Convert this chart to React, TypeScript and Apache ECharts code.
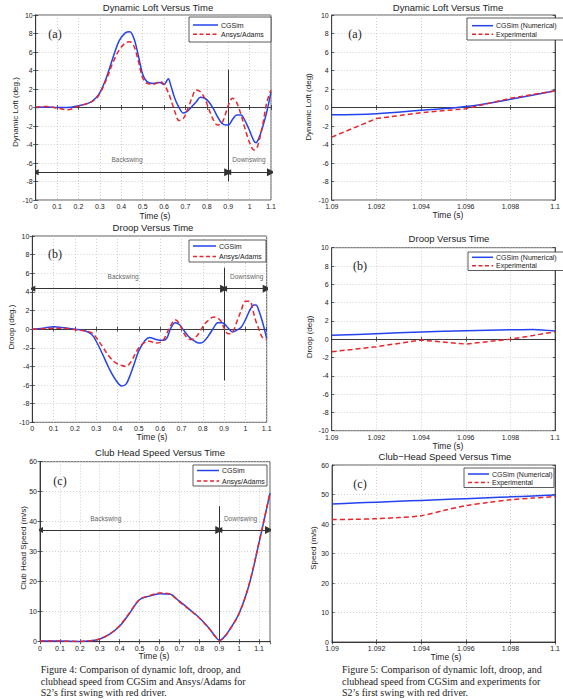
import React, { useEffect, useRef } from "react";
import * as echarts from "echarts";

// ---- Figure 4: full swing, CGSim vs Ansys/Adams ----
const loftTime = [0, 0.05, 0.1, 0.15, 0.2, 0.25, 0.28, 0.3, 0.33, 0.36, 0.39, 0.42, 0.44, 0.46, 0.48, 0.5, 0.52, 0.55, 0.58, 0.6, 0.62, 0.63, 0.65, 0.67, 0.69, 0.71, 0.73, 0.75, 0.77, 0.79, 0.81, 0.83, 0.85, 0.87, 0.89, 0.9, 0.92, 0.94, 0.96, 0.98, 1.0, 1.02, 1.03, 1.04, 1.06, 1.08, 1.1];
const loftCGSim = [0, 0.05, 0, 0, 0.2, 0.5, 1.0, 1.6, 3.2, 5.3, 7.2, 8.1, 8.2, 7.4, 5.6, 3.6, 2.8, 2.6, 2.7, 2.5, 3.1, 2.5, 1.0, 0.0, -0.6, -0.4, 0.1, 0.6, 1.1, 1.0, 0.6, -0.1, -1.0, -1.7, -1.9, -1.9, -1.3, -0.8, -0.8, -1.5, -2.5, -3.6, -3.8, -3.5, -2.2, -0.5, 1.7];
const loftAnsys = [0.05, 0.1, -0.05, -0.25, 0.15, 0.5, 0.9, 1.5, 3.0, 4.8, 6.2, 7.0, 7.1, 6.6, 5.0, 3.2, 2.6, 2.5, 2.8, 2.5, 1.6, 1.0, -0.4, -1.4, -1.2, -0.2, 1.0, 1.9, 1.7, 1.0, -0.2, -1.3, -1.9, -1.7, -0.5, 0.2, 1.0, 0.5, -0.8, -2.4, -3.8, -4.6, -4.5, -4.0, -2.0, 0.5, 1.9];

const droopTime = [0, 0.05, 0.1, 0.15, 0.2, 0.25, 0.28, 0.3, 0.33, 0.36, 0.39, 0.42, 0.44, 0.46, 0.48, 0.5, 0.53, 0.55, 0.58, 0.61, 0.63, 0.65, 0.67, 0.69, 0.71, 0.73, 0.75, 0.77, 0.79, 0.81, 0.83, 0.85, 0.87, 0.89, 0.9, 0.92, 0.94, 0.96, 0.98, 1.0, 1.02, 1.04, 1.05, 1.06, 1.08, 1.1];
const droopCGSim = [0, 0.1, 0.25, 0.15, 0, -0.2, -0.6, -1.3, -2.7, -4.2, -5.4, -6.1, -5.9, -4.9, -3.6, -2.3, -1.2, -0.9, -1.1, -1.2, -1.0, 0.1, 0.7, 0.5, -0.1, -0.7, -1.1, -1.4, -1.5, -1.2, -0.6, 0.1, 0.7, 0.7, 0.6, 0.1, -0.3, -0.1, 0.2, 1.0, 2.0, 2.6, 2.6, 2.2, 0.8, -1.0];
const droopAnsys = [0, 0.05, 0.1, 0.1, -0.05, -0.2, -0.4, -0.9, -1.9, -2.9, -3.6, -3.9, -4.0, -3.6, -2.8, -2.0, -1.4, -1.3, -1.5, -1.3, -0.5, 0.4, 1.0, 0.6, -0.4, -1.0, -1.1, -0.8, -0.1, 0.6, 1.0, 1.3, 1.2, 0.7, 0.1, -0.5, -0.3, 0.8, 2.0, 3.0, 3.0, 1.6, 0.8, 0.2, -0.9, -1.1];

const speedTime = [0, 0.1, 0.2, 0.25, 0.3, 0.35, 0.4, 0.45, 0.5, 0.55, 0.6, 0.65, 0.7, 0.75, 0.8, 0.85, 0.88, 0.9, 0.92, 0.95, 1.0, 1.05, 1.1, 1.155];
const speedCGSim = [0.2, 0.2, 0.1, 0.3, 0.9, 2.5, 5.2, 9.5, 14.0, 15.2, 16.0, 15.9, 13.5, 10.8, 8.0, 4.4, 1.8, 0.5, 1.2, 3.8, 9.5, 19.0, 33.0, 49.5];
const speedAnsys = [0.2, 0.2, 0.1, 0.3, 0.9, 2.6, 5.3, 9.7, 14.1, 15.3, 16.2, 15.9, 13.3, 10.7, 7.9, 4.3, 1.7, 0.4, 1.1, 3.7, 9.4, 19.1, 33.2, 49.6];

// swing phases: top of backswing and the annotation levels
const topOfBackswing = 0.9;
const phaseLevels = {
  loft: { arrow: -7, label: -5.6, lineFrom: 4.1, lineTo: -8, end: 1.1 },
  droop: { arrow: 4.35, label: 5.7, lineFrom: 6.6, lineTo: -5.5, end: 1.1 },
  speed: { arrow: 37.2, label: 41.2, lineFrom: 45.2, lineTo: 0, end: 1.15 },
};
const phaseLabelTimes = { loft: [0.427, 0.997], droop: [0.426, 1.006], speed: [0.33, 1.007] };

// ---- Figure 5: impact window, CGSim vs experiment ----
const impactTime = [1.09, 1.092, 1.094, 1.096, 1.098, 1.1];
const impactLoftNumerical = [-0.78, -0.67, -0.3, 0.1, 0.88, 1.8];
const impactLoftExperimental = [-3.2, -1.2, -0.56, -0.13, 1.0, 1.8];

const impactDroopTime = [1.09, 1.092, 1.094, 1.096, 1.098, 1.099, 1.1];
const impactDroopNumerical = [0.42, 0.6, 0.78, 0.93, 1.03, 1.07, 0.9];
const impactDroopExperimental = [-1.37, -0.82, -0.1, -0.53, 0.0, 0.4, 0.82];

const impactSpeedTime = [1.09, 1.091, 1.092, 1.093, 1.094, 1.095, 1.096, 1.097, 1.098, 1.099, 1.1];
const impactSpeedNumerical = [46.8, 47.1, 47.4, 47.7, 48.0, 48.3, 48.6, 48.9, 49.2, 49.5, 49.8];
const impactSpeedExperimental = [41.5, 41.6, 41.8, 42.2, 42.8, 44.6, 46.2, 47.3, 48.2, 48.8, 49.3];

const SIM = "CGSim";
const FEA = "Ansys/Adams";
const NUM = "CGSim (Numerical)";
const EXP = "Experimental";

const SANS = "'Liberation Sans', Arial, sans-serif";
const SERIF = "'Liberation Serif', 'Times New Roman', serif";
const BLUE = "#2343ee";
const RED = "#e8262c";
const INK = "#222";
const FRAME = "#333";
const DASH = [5, 3];

const pairs = (xs: number[], ys: number[]) => xs.map((x, i) => [x, ys[i]]);
const fmt = (v: number) => String(parseFloat(v.toFixed(4)));

const grids = [
  { left: 35.7, top: 15, width: 235.3, height: 185 },
  { left: 331.7, top: 15, width: 230.8, height: 185 },
  { left: 32.3, top: 236, width: 234.4, height: 186.3 },
  { left: 331.7, top: 247.7, width: 230.8, height: 183 },
  { left: 40, top: 461.7, width: 230, height: 180 },
  { left: 332, top: 465, width: 224, height: 177 },
];
const xRanges = [[0, 1.1, 0.1], [1.09, 1.1, 0.002], [0, 1.1, 0.1], [1.09, 1.1, 0.002], [0, 1.155, 0.1], [1.09, 1.1, 0.002]];
const yRanges = [[-10, 10, 2], [-10, 10, 2], [-10, 10, 2], [-10, 10, 2], [0, 60, 10], [0, 60, 10]];

const tick = { show: true, inside: true, length: 2.5, lineStyle: { color: FRAME, width: 0.8 } };
const line = { show: true, lineStyle: { color: FRAME, width: 0.8 } };

function axis(gridIndex: number, r: number[], position: string, main: boolean) {
  return {
    type: "value", gridIndex, min: r[0], max: r[1], interval: r[2], position,
    axisLine: line, axisTick: tick,
    axisLabel: main
      ? { fontSize: 7, color: INK, margin: 3, fontFamily: SANS, formatter: fmt, showMaxLabel: Math.abs(r[1] - 1.155) > 1e-6 }
      : { show: false },
    splitLine: main
      ? { show: true, lineStyle: { color: "#c4c4c4", type: [1, 2], width: 0.8 } }
      : { show: false },
  };
}

function curve(name: string, idx: number, data: number[][], dashed: boolean, smooth: number | boolean) {
  return {
    type: "line", name, xAxisIndex: idx, yAxisIndex: idx, data, smooth,
    showSymbol: false, symbol: "none", silent: true,
    lineStyle: dashed ? { color: RED, width: 1.5, type: DASH } : { color: BLUE, width: 1.5 },
  };
}

function phaseMarks(idx: number, lv: { arrow: number; label: number; lineFrom: number; lineTo: number; end: number }, labelT: number[]) {
  return [
    {
      type: "lines", coordinateSystem: "cartesian2d", xAxisIndex: idx, yAxisIndex: idx, silent: true,
      symbol: "none", lineStyle: { color: FRAME, width: 1, opacity: 1 },
      data: [{ coords: [[topOfBackswing, lv.lineFrom], [topOfBackswing, lv.lineTo]] }],
    },
    {
      type: "lines", coordinateSystem: "cartesian2d", xAxisIndex: idx, yAxisIndex: idx, silent: true,
      symbol: ["triangle", "triangle"], symbolSize: [6, 8],
      lineStyle: { color: FRAME, width: 1, opacity: 1 }, itemStyle: { color: "#111" },
      data: [
        { coords: [[0, lv.arrow], [topOfBackswing, lv.arrow]] },
        { coords: [[topOfBackswing, lv.arrow], [lv.end, lv.arrow]] },
      ],
    },
    {
      type: "scatter", xAxisIndex: idx, yAxisIndex: idx, silent: true, symbolSize: 0,
      label: { show: true, position: "inside", fontSize: 6.5, color: "#333", fontFamily: SANS, formatter: (p: any) => p.data.text },
      data: [
        { value: [labelT[0], lv.label], text: "Backswing" },
        { value: [labelT[1], lv.label], text: "Downswing" },
      ],
    },
  ];
}

function text(x: number, y: number, t: string, size: number, opts: any = {}) {
  return {
    type: "text", x, y, rotation: opts.rotation || 0, silent: true, z: 100,
    style: {
      text: t, fontSize: size, fontFamily: opts.font || SANS, fill: INK,
      align: opts.align || "center", verticalAlign: opts.valign || "middle",
      lineHeight: opts.lineHeight,
    },
  };
}

// boxed legend: [x, y, w, h] box, sample line from lx1 to lx2, rows at ry1 / ry2
function legendBox(box: number[], lx1: number, lx2: number, rows: number[], names: string[]) {
  const els: any[] = [
    { type: "rect", z: 100, silent: true, shape: { x: box[0], y: box[1], width: box[2], height: box[3] }, style: { fill: "#fff", stroke: FRAME, lineWidth: 0.8 } },
  ];
  names.forEach((n, i) => {
    els.push({
      type: "line", z: 101, silent: true,
      shape: { x1: lx1, y1: rows[i], x2: lx2, y2: rows[i] },
      style: i === 0 ? { stroke: BLUE, lineWidth: 1.5 } : { stroke: RED, lineWidth: 1.5, lineDash: [4, 2.5] },
    });
    els.push({ ...text(lx2 + 3, rows[i], n, 7, { align: "left" }), z: 101 });
  });
  return els;
}

export default function App() {
  const ref = useRef<HTMLDivElement>(null);

  useEffect(() => {
    if (!ref.current) return;
    const chart = echarts.init(ref.current, undefined, { renderer: "svg" });

    const option: any = {
      animation: false,
      backgroundColor: "#fff",
      grid: grids.map((g) => ({ ...g, show: true, borderColor: FRAME, borderWidth: 0.8, backgroundColor: "#fff" })),
      xAxis: [
        ...xRanges.map((r, i) => axis(i, r, "bottom", true)),
        ...xRanges.map((r, i) => axis(i, r, "top", false)),
      ],
      yAxis: [
        ...yRanges.map((r, i) => axis(i, r, "left", true)),
        ...yRanges.map((r, i) => axis(i, r, "right", false)),
      ],
      series: [
        curve(SIM, 0, pairs(loftTime, loftCGSim), false, 0.35),
        curve(FEA, 0, pairs(loftTime, loftAnsys), true, 0.35),
        ...phaseMarks(0, phaseLevels.loft, phaseLabelTimes.loft),

        curve(NUM, 1, pairs(impactTime, impactLoftNumerical), false, 0.4),
        curve(EXP, 1, pairs(impactTime, impactLoftExperimental), true, false),

        curve(SIM, 2, pairs(droopTime, droopCGSim), false, 0.35),
        curve(FEA, 2, pairs(droopTime, droopAnsys), true, 0.35),
        ...phaseMarks(2, phaseLevels.droop, phaseLabelTimes.droop),

        curve(NUM, 3, pairs(impactDroopTime, impactDroopNumerical), false, 0.3),
        curve(EXP, 3, pairs(impactDroopTime, impactDroopExperimental), true, false),

        curve(SIM, 4, pairs(speedTime, speedCGSim), false, 0.35),
        curve(FEA, 4, pairs(speedTime, speedAnsys), true, 0.35),
        ...phaseMarks(4, phaseLevels.speed, phaseLabelTimes.speed),

        curve(NUM, 5, pairs(impactSpeedTime, impactSpeedNumerical), false, 0.3),
        curve(EXP, 5, pairs(impactSpeedTime, impactSpeedExperimental), true, 0.3),
      ],
      graphic: [
        // panel titles
        text(158, 7, "Dynamic Loft Versus Time", 9.5),
        text(448, 7, "Dynamic Loft Versus Time", 9.5),
        text(153, 227, "Droop Versus Time", 9.5),
        text(449, 238, "Droop Versus Time", 9.5),
        text(160, 452, "Club Head Speed Versus Time", 9.5),
        text(445, 456, "Club\u2212Head Speed Versus Time", 9.5),
        // x axis names
        text(155, 216, "Time (s)", 8.5),
        text(448, 215, "Time (s)", 8.5),
        text(152, 437, "Time (s)", 8.5),
        text(448, 446, "Time (s)", 8.5),
        text(154, 656, "Time (s)", 8.5),
        text(446, 657, "Time (s)", 8.5),
        // y axis names
        text(15, 112, "Dynamic Loft (deg.)", 8, { rotation: Math.PI / 2 }),
        text(308, 107, "Dynamic Loft (deg)", 8, { rotation: Math.PI / 2 }),
        text(11, 327, "Droop (deg.)", 8, { rotation: Math.PI / 2 }),
        text(309, 337, "Droop (deg)", 8, { rotation: Math.PI / 2 }),
        text(23, 548, "Club Head Speed (m/s)", 8, { rotation: Math.PI / 2 }),
        text(313, 548, "Speed (m/s)", 8, { rotation: Math.PI / 2 }),
        // panel letters
        text(55, 34, "(a)", 12, { font: SERIF }),
        text(355, 34, "(a)", 12, { font: SERIF }),
        text(55, 254, "(b)", 12, { font: SERIF }),
        text(360, 266, "(b)", 12, { font: SERIF }),
        text(60, 481, "(c)", 12, { font: SERIF }),
        text(360, 484, "(c)", 12, { font: SERIF }),
        // legends
        ...legendBox([189, 17, 82, 25], 193, 218, [25, 34.3], [SIM, FEA]),
        ...legendBox([189, 240, 77, 22], 193, 216, [246, 256.5], [SIM, FEA]),
        ...legendBox([193, 465, 74, 21], 197, 219, [470.5, 481], [SIM, FEA]),
        ...legendBox([467, 18, 100, 22], 472, 493, [25.7, 34.3], [NUM, EXP]),
        ...legendBox([468, 252, 100, 18.5], 472, 493, [257.3, 265.7], [NUM, EXP]),
        ...legendBox([464, 468, 90, 19.5], 468, 489, [474, 482.5], [NUM, EXP]),
        // figure captions
        text(40.7, 664, "Figure 4: Comparison of dynamic loft, droop, and\nclubhead speed from CGSim and Ansys/Adams for\nS2\u2019s first swing with red driver.", 10,
          { font: SERIF, align: "left", valign: "top", lineHeight: 11.5 }),
        text(342, 664, "Figure 5: Comparison of dynamic loft, droop, and\nclubhead speed from CGSim and experiments for\nS2\u2019s first swing with red driver.", 10,
          { font: SERIF, align: "left", valign: "top", lineHeight: 11.5 }),
      ],
    };

    chart.setOption(option);
    return () => chart.dispose();
  }, []);

  return (
    <div
      ref={ref}
      style={{ position: "fixed", left: 0, top: 0, width: 563, height: 699, background: "#fff" }}
    />
  );
}
